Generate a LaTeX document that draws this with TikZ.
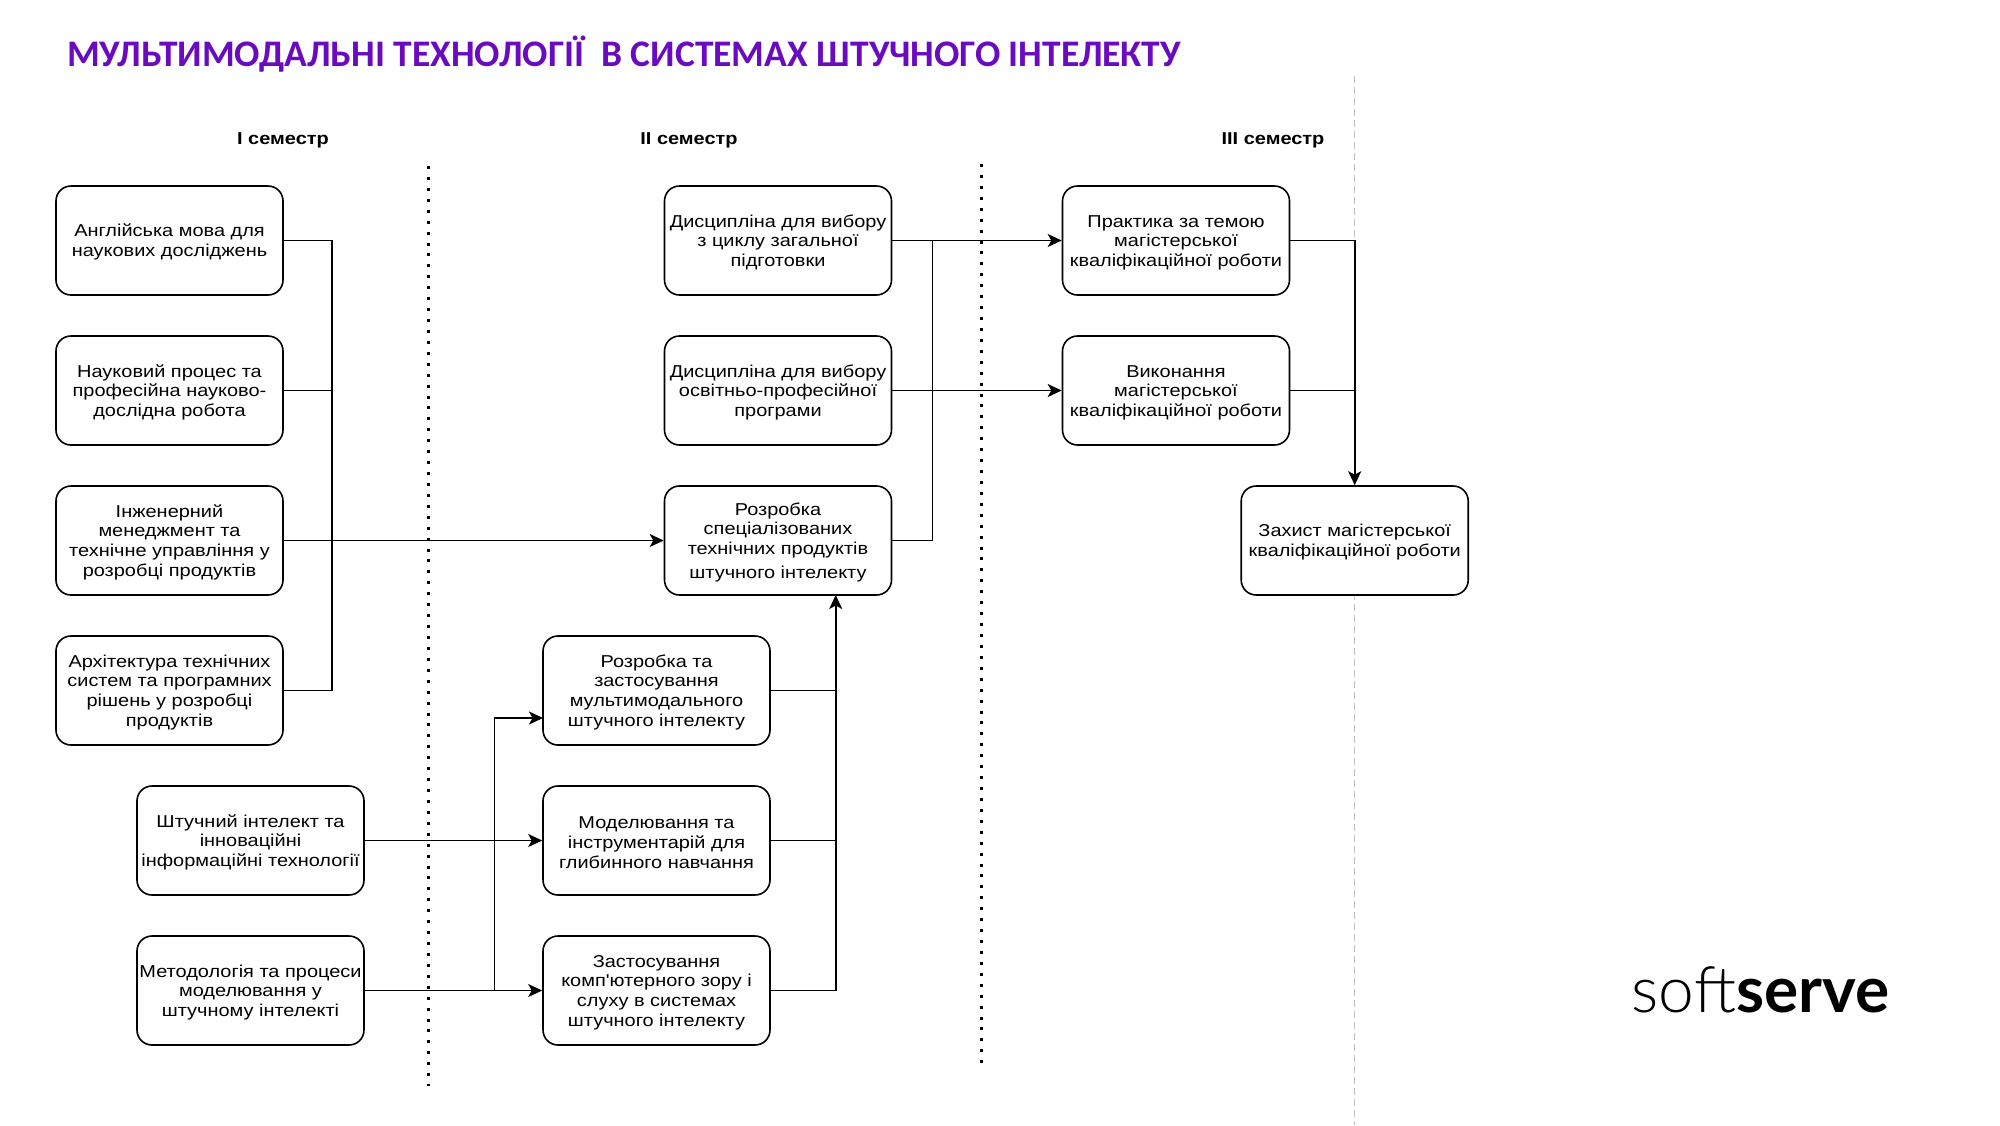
\documentclass[tikz,border=0pt]{standalone}
\usepackage{fontspec}
\setmainfont[FakeStretch=1.16]{Liberation Sans}
\newfontfamily\plainfont[FakeStretch=1.16]{Liberation Sans}
\newfontfamily\titlefont{Carlito}
\newfontfamily\logolight{Lato Light}
\newfontfamily\logobold{Lato}
\usetikzlibrary{arrows.meta}
\definecolor{titlecolor}{HTML}{6A0BBF}
\newcommand\lft{\rule{0pt}{16pt}}
\tikzset{
  x=1pt,y=-1pt,
  box/.style={draw=black,fill=white,line width=1.6pt,rounded corners=15pt,minimum width=227pt,minimum height=109pt,inner sep=0pt,align=center,font=\fontsize{17.2}{19.7}\selectfont},
  conn/.style={draw=black,line width=1.6pt},
  arr/.style={conn,-{Stealth[length=14pt,width=13pt,inset=3.5pt]}},
  sem/.style={font=\fontsize{17.2}{20}\selectfont\bfseries,inner sep=0pt},
  sep/.style={line width=3pt,dash pattern=on 3pt off 7.93pt,black},
  guide/.style={line width=1pt,dash pattern=on 7pt off 4pt,black!25}
}
\begin{document}
\begin{tikzpicture}
\useasboundingbox (0,0) rectangle (2000,1125);
\fill[white] (0,0) rectangle (2000,1125);
% guides
\coordinate (g1) at (1354.7,76);
\coordinate (g2) at (1354.7,1125);
\draw[guide] (g1) -- (g2);
\coordinate (s1a) at (428.6,166);
\coordinate (s1b) at (428.6,1086);
\draw[sep] (s1a) -- (s1b);
\coordinate (s2a) at (981,164);
\coordinate (s2b) at (981,1064);
\draw[sep] (s2a) -- (s2b);
% title
\node[anchor=base west,inner sep=0pt,text=titlecolor,font=\fontsize{37.5}{40}\selectfont\titlefont\bfseries] (title) at (67,66) {МУЛЬТИМОДАЛЬНІ ТЕХНОЛОГІЇ\ \ В СИСТЕМАХ ШТУЧНОГО ІНТЕЛЕКТУ};
\node[sem] (s1) at (283,140) {І семестр};
\node[sem] (s2) at (689,140) {ІІ семестр};
\node[sem] (s3) at (1273,140) {ІІІ семестр};
% column I
\node[box] (a1) at (169.5,240.5) {\lft Англійська мова для\\наукових досліджень};
\node[box] (a2) at (169.5,390.5) {\lft Науковий процес та\\професійна науково-\\дослідна робота};
\node[box] (a3) at (169.5,540.5) {\lft Інженерний\\менеджмент та\\технічне управління у\\розробці продуктів};
\node[box] (a4) at (169.5,690.5) {\lft Архітектура технічних\\систем та програмних\\рішень у розробці\\продуктів};
\node[box] (m1) at (250.5,840.5) {\lft Штучний інтелект та\\інноваційні\\інформаційні технології};
\node[box] (m2) at (250.5,990.5) {\lft Методологія та процеси\\моделювання у\\штучному інтелекті};
% column II lower
\node[box] (e1) at (656.5,690.5) {\lft Розробка та\\застосування\\мультимодального\\штучного інтелекту};
\node[box] (e2) at (656.5,840.5) {\lft Моделювання та\\інструментарій для\\глибинного навчання};
\node[box] (e3) at (656.5,990.5) {\lft Застосування\\комп{\plainfont'}ютерного зору і\\слуху в системах\\штучного інтелекту};
% column II upper
\node[box] (b1) at (778,240.5) {\lft Дисципліна для вибору\\з циклу загальної\\підготовки};
\node[box] (b2) at (778,390.5) {\lft Дисципліна для вибору\\освітньо-професійної\\програми};
\node[box] (b3) at (778,540.5) {\lft Розробка\\спеціалізованих\\технічних продуктів\\[4pt]штучного інтелекту};
% column III
\node[box] (c1) at (1176,240.5) {\lft Практика за темою\\магістерської\\кваліфікаційної роботи};
\node[box] (c2) at (1176,390.5) {\lft Виконання\\магістерської\\кваліфікаційної роботи};
\node[box] (d) at (1354.7,540.5) {\lft Захист магістерської\\кваліфікаційної роботи};
% connectors
\coordinate (busA) at (332,540.5);
\coordinate (busB) at (932.4,240.5);
\coordinate (busC) at (494.4,990.5);
\coordinate (busD) at (835.7,690.5);
\coordinate (e1in) at (543,718);
\coordinate (b3in) at (835.7,595);
\draw[conn] (a1.east) -| (busA) |- (a4.east);
\draw[conn] (a2.east) -- (a2.east -| busA);
\draw[arr] (a3) -- (b3);
\draw[arr] (b1) -- (c1);
\draw[arr] (b2) -- (c2);
\draw[conn] (b3.east) -| (busB);
\draw[arr] (m1) -- (e2);
\draw[arr] (m2) -- (e3);
\draw[arr] (busC) |- (e1in);
\draw[conn] (e1.east) -- (e1.east -| busD);
\draw[conn] (e2.east) -- (e2.east -| busD);
\draw[arr] (e3.east) -| (b3in);
\draw[arr] (c1.east) -| (d.north);
\draw[conn] (c2.east) -- (c2.east -| d.north);
% logo
\node[anchor=base west,inner sep=0pt,font=\fontsize{64}{64}\selectfont] (logo) at (1631.5,1012) {{\logolight soft}{\logobold\bfseries serve}};
\end{tikzpicture}
\end{document}
